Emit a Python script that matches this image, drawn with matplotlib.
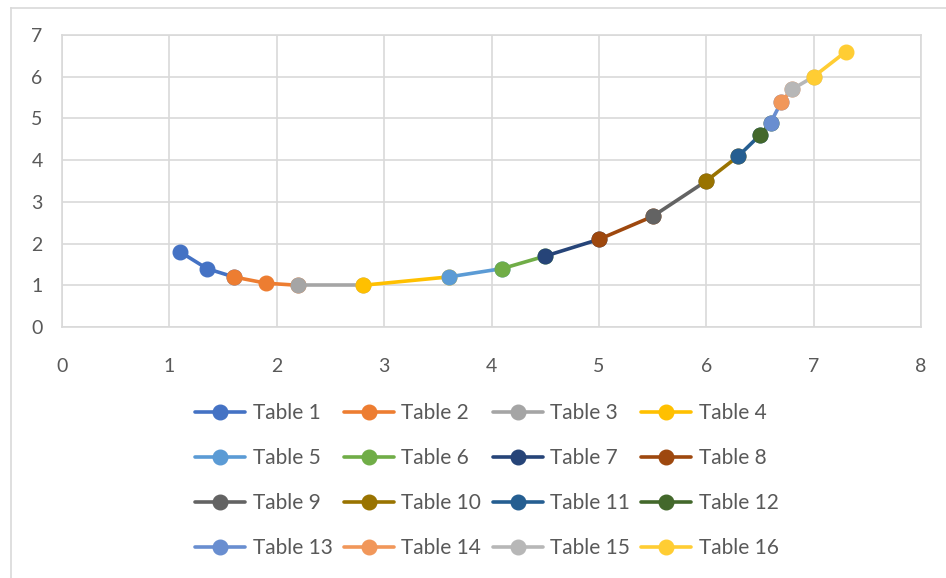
import matplotlib
matplotlib.use("Agg")
import matplotlib.pyplot as plt
from matplotlib.lines import Line2D

# --------------------------------------------------------------------------
# DATA
# --------------------------------------------------------------------------
series_names = ["Table %d" % i for i in range(1, 17)]

series_x = [
    [1.1, 1.35, 1.6],
    [1.6, 1.9, 2.2],
    [2.2, 2.8],
    [2.8, 3.6],
    [3.6, 4.1],
    [4.1, 4.5],
    [4.5, 5.0],
    [5.0, 5.5],
    [5.5, 6.0],
    [6.0, 6.3],
    [6.3, 6.5],
    [6.5, 6.6],
    [6.6, 6.7],
    [6.7, 6.8],
    [6.8, 7.0],
    [7.0, 7.3],
]
series_y = [
    [1.8, 1.4, 1.2],
    [1.2, 1.05, 1.0],
    [1.0, 1.0],
    [1.0, 1.2],
    [1.2, 1.4],
    [1.4, 1.7],
    [1.7, 2.1],
    [2.1, 2.65],
    [2.65, 3.5],
    [3.5, 4.1],
    [4.1, 4.6],
    [4.6, 4.9],
    [4.9, 5.4],
    [5.4, 5.7],
    [5.7, 6.0],
    [6.0, 6.6],
]
series_colors = [
    "#4472C4", "#ED7D31", "#A5A5A5", "#FFC000",
    "#5B9BD5", "#70AD47", "#264478", "#9E480E",
    "#636363", "#997300", "#255E91", "#43682B",
    "#698ED0", "#F1975A", "#B7B7B7", "#FFCD33",
]

x_ticks = list(range(0, 9))
y_ticks = list(range(0, 8))

# --------------------------------------------------------------------------
# PLOT
# --------------------------------------------------------------------------
plt.rcParams['font.family'] = ['Lato', 'DejaVu Sans']
W, H = 946, 578
fig = plt.figure(figsize=(W / 100, H / 100), dpi=100)
ax = fig.add_axes([62 / W, 1 - 327 / H, (921 - 62) / W, (327 - 35) / H])

grid_col = "#D9D9D9"
text_col = "#595959"

for xs, ys, c, name in zip(series_x, series_y, series_colors, series_names):
    ax.plot(xs, ys, color=c, linewidth=2.6, marker='o', markersize=10.5,
            markeredgecolor=c, label=name, solid_capstyle='round')

ax.set_xlim(0, 8)
ax.set_ylim(0, 7)
ax.set_xticks(x_ticks)
ax.set_yticks(y_ticks)
ax.grid(True, color=grid_col, linewidth=1.2)
ax.set_axisbelow(True)
for s in ax.spines.values():
    s.set_color(grid_col)
    s.set_linewidth(1.2)
ax.tick_params(length=0, labelsize=14, colors=text_col)
ax.tick_params(axis='x', pad=22)
ax.tick_params(axis='y', pad=14)

# chart frame
fig.add_artist(Line2D([10.5 / W, 10.5 / W], [0, 1 - 7.5 / H], color=grid_col,
                      linewidth=1.2, transform=fig.transFigure))
fig.add_artist(Line2D([10.5 / W, 1], [1 - 7.5 / H, 1 - 7.5 / H], color=grid_col,
                      linewidth=1.2, transform=fig.transFigure))

# legend filled row by row (matplotlib fills columns first)
handles, labels = ax.get_legend_handles_labels()
ncol = 4
nrow = len(handles) // ncol
order = [r * ncol + c for c in range(ncol) for r in range(nrow)]
leg = fig.legend([handles[i] for i in order], [labels[i] for i in order],
                 ncol=ncol, loc='center',
                 bbox_to_anchor=(487 / W, 1 - 480.5 / H), frameon=False,
                 fontsize=15, handlelength=2.4, handletextpad=0.35,
                 columnspacing=0.55, labelspacing=1.2, borderpad=0)
for t in leg.get_texts():
    t.set_color(text_col)

fig.savefig("out.png", dpi=100)
